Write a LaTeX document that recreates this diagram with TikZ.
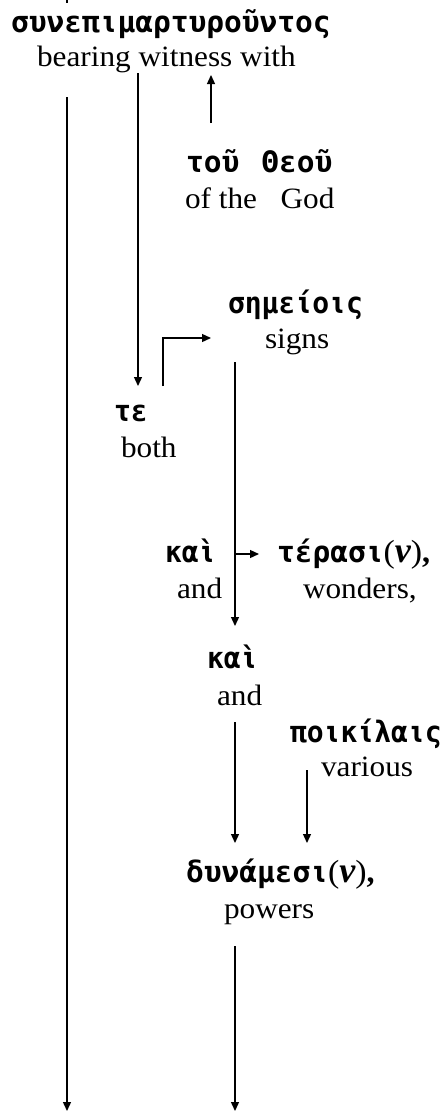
\documentclass[tikz,border=0pt]{standalone}
\usepackage{fontspec}
\usetikzlibrary{arrows.meta}
\newfontfamily\grk[FakeStretch=0.95]{DejaVu Sans Mono Bold}
\newfontfamily\grkw[FakeStretch=1.0]{DejaVu Sans Mono Bold}
\newfontfamily\engf[FakeStretch=1.06]{Liberation Serif}
\newfontfamily\engbi{Liberation Serif Bold Italic}
\newfontfamily\engb{Liberation Serif Bold}
\newcommand{\grksize}{\fontsize{29.5}{34}\selectfont}
\newcommand{\engsize}{\fontsize{29.5}{34}\selectfont}
\newcommand{\nupar}{{\engf\fontsize{32}{36}\selectfont(}{\engbi\fontsize{36}{40}\selectfont ν}{\engf\fontsize{32}{36}\selectfont)}{\engb\fontsize{32}{36}\selectfont,}}
\tikzset{
  gr/.style={font=\grk\grksize, anchor=base west, inner sep=0pt, outer sep=0pt},
  grw/.style={gr, font=\grkw\grksize},
  en/.style={font=\engf\engsize, anchor=base west, inner sep=0pt, outer sep=0pt},
  conn/.style={line width=1.3pt, -{Triangle[length=9pt,width=8pt]}},
  plain/.style={line width=1.3pt},
}
\begin{document}
\begin{tikzpicture}[x=1pt,y=-1pt]
\useasboundingbox (0,0) rectangle (441,1111);
% texts
\node[grw] (g1) at (11,32) {συνεπιμαρτυροῦντος};
\node[en] (e1) at (37,66) {bearing witness with};
\node[grw] (g2) at (186,172) {τοῦ\hspace{0.75em}Θεοῦ};
\node[en] (e2) at (185,208) {of the\hspace{0.8em}God};
\node[gr] (g3) at (228,313) {σημείοις};
\node[en] (e3) at (265,348) {signs};
\node[gr] (g4) at (114,421) {τε};
\node[en] (e4) at (121,457) {both};
\node[gr] (g5) at (165,562) {καὶ};
\node[en] (e5) at (177,598) {and};
\node[grw] (g6) at (277,562) {τέρασι\nupar};
\node[en] (e6) at (303,598) {wonders,};
\node[gr] (g7) at (207,668) {καὶ};
\node[en] (e7) at (217,705) {and};
\node[gr] (g8) at (290,742) {ποικίλαις};
\node[en] (e8) at (321,776) {various};
\node[grw] (g9) at (186,882) {δυνάμεσι\nupar};
\node[en] (e9) at (224,918) {powers};
% connector end points
\coordinate (t0) at (67,0);
\coordinate (t1) at (67,3);
\coordinate (a0) at (67,97);
\coordinate (a1) at (67,1111);
\coordinate (b0) at (138,73);
\coordinate (b1) at (138,386);
\coordinate (c0) at (211,123);
\coordinate (c1) at (211,75);
\coordinate (d0) at (163,386);
\coordinate (d1) at (211,338);
\coordinate (f0) at (235,362);
\coordinate (f1) at (235,626);
\coordinate (h0) at (235,554);
\coordinate (h1) at (259,554);
\coordinate (k0) at (235,722);
\coordinate (k1) at (235,843);
\coordinate (m0) at (307,770);
\coordinate (m1) at (307,843);
\coordinate (n0) at (235,946);
\coordinate (n1) at (235,1111);
% connectors
\draw[plain] (t0) -- (t1);
\draw[conn] (a0) -- (a1);
\draw[conn] (b0) -- (b1);
\draw[conn] (c0) -- (c1);
\draw[conn] (d0) |- (d1);
\draw[conn] (f0) -- (f1);
\draw[conn] (h0) -- (h1);
\draw[conn] (k0) -- (k1);
\draw[conn] (m0) -- (m1);
\draw[conn] (n0) -- (n1);
\end{tikzpicture}
\end{document}
